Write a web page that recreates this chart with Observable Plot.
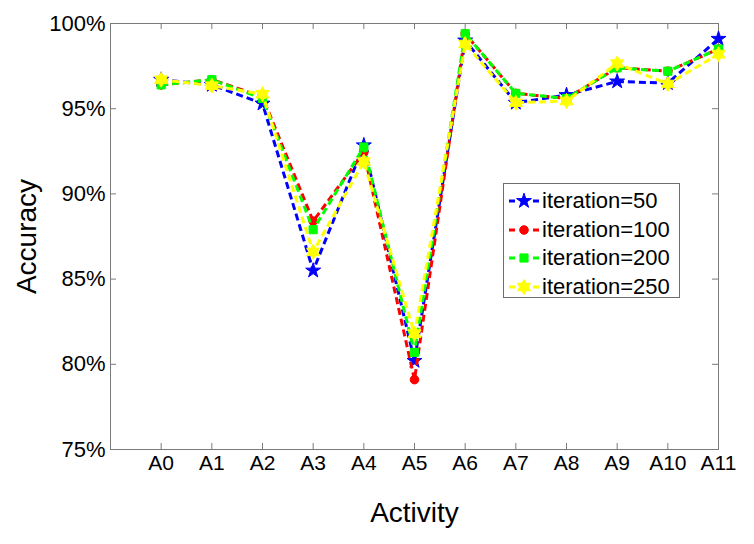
<!DOCTYPE html>
<html><head><meta charset="utf-8">
<script src="https://cdn.jsdelivr.net/npm/d3@7"></script>
<script src="https://cdn.jsdelivr.net/npm/@observablehq/plot@0.6"></script>
<style>
body{margin:0;background:#fff;}
#chart{position:relative;width:754px;height:544px;font-family:"Liberation Sans",Arial,Helvetica,sans-serif;}
#legend{position:absolute;left:503px;top:183px;width:177px;height:115px;border:1px solid #6e6e6e;background:#fff;box-sizing:border-box;}
.row{position:absolute;left:0;height:28px;display:flex;align-items:center;}
.row span{font-size:22px;color:#000;margin-left:1px;line-height:28px;}
</style>
</head><body><div id="chart"></div>
<script>
const activities = ["A0","A1","A2","A3","A4","A5","A6","A7","A8","A9","A10","A11"];
const seriesNames = ["iteration=50","iteration=100","iteration=200","iteration=250"];
const acc50  = [96.7, 96.4, 95.3, 85.5, 92.85, 80.2, 99.0, 95.35, 95.8, 96.6, 96.5, 99.1];
const acc100 = [96.4, 96.7, 95.7, 88.4, 92.45, 79.1, 99.4, 95.9, 95.6, 97.4, 97.2, 98.5];
const acc200 = [96.4, 96.7, 95.6, 87.9, 92.75, 80.7, 99.4, 95.9, 95.6, 97.4, 97.2, 98.5];
const acc250 = [96.7, 96.35, 95.85, 86.6, 91.9, 81.8, 98.8, 95.35, 95.45, 97.65, 96.45, 98.2];
const yTicks = [75, 80, 85, 90, 95, 100];

const seriesValues = [acc50, acc100, acc200, acc250];
const colors = ["#0000ff", "#ff0000", "#00ff00", "#ffff00"];

const hexagram = {draw(ctx, size) {
  const R = Math.sqrt(size / Math.PI) * 1.6, r = R / Math.sqrt(3);
  for (let k = 0; k < 12; k++) {
    const a = -Math.PI / 2 + k * Math.PI / 6, rad = k % 2 ? r : R;
    const x = rad * Math.cos(a), y = rad * Math.sin(a);
    if (k) ctx.lineTo(x, y); else ctx.moveTo(x, y);
  }
  ctx.closePath();
}};
const symbols = [d3.symbolStar, d3.symbolCircle, d3.symbolSquare, hexagram];
const radii = [4.7, 4.3, 4.6, 4.7];

const rows = [];
seriesNames.forEach((s, si) => seriesValues[si].forEach((v, i) => rows.push({series: s, si, i, act: activities[i], v})));

const W = 754, H = 544, mL = 110, mR = 36, mT = 23, mB = 95;
const fw = W - mL - mR, fh = H - mT - mB, tl = 6;
const xTickVals = d3.range(activities.length);
const tickStroke = "#7a7a7a";

const marks = [
  Plot.frame({stroke: tickStroke}),
  // inward tick marks on all four sides
  Plot.tickX(xTickVals, {x: d => d, stroke: tickStroke, insetTop: fh - tl}),
  Plot.tickX(xTickVals, {x: d => d, stroke: tickStroke, insetBottom: fh - tl}),
  Plot.tickY(yTicks, {y: d => d, stroke: tickStroke, insetRight: fw - tl}),
  Plot.tickY(yTicks, {y: d => d, stroke: tickStroke, insetLeft: fw - tl}),
  Plot.axisX({ticks: xTickVals, tickFormat: i => activities[i], tickSize: 0, tickPadding: 6, fill: "#000", fontSize: 21, label: null}),
  Plot.axisY({ticks: yTicks, tickFormat: d => d + "%", tickSize: 0, tickPadding: 5, fill: "#000", fontSize: 22, label: null}),
  Plot.text(["Activity"], {frameAnchor: "bottom", dy: 72, fontSize: 28, fill: "#000"}),
  Plot.text(["Accuracy"], {frameAnchor: "left", textAnchor: "middle", dx: -83, rotate: -90, fontSize: 28, fill: "#000"})
];
seriesNames.forEach((s, si) => {
  const d = rows.filter(r => r.si === si);
  marks.push(Plot.line(d, {x: "i", y: "v", stroke: colors[si], strokeWidth: 3, strokeDasharray: "7,4", strokeLinecap: "butt", strokeLinejoin: "miter"}));
  marks.push(Plot.dot(d, {x: "i", y: "v", symbol: symbols[si], r: radii[si], fill: colors[si], stroke: colors[si], strokeWidth: 1}));
});

const chart = Plot.plot({
  width: W, height: H,
  marginLeft: mL, marginRight: mR, marginTop: mT, marginBottom: mB,
  style: {fontFamily: "'Liberation Sans', Arial, Helvetica, sans-serif", fontSize: "21px", background: "#fff", color: "#000"},
  x: {type: "linear", domain: [-1, activities.length - 1], axis: null},
  y: {domain: [75, 100], axis: null},
  marks
});
const container = document.getElementById("chart");
container.appendChild(chart);

// legend
const legend = document.createElement("div");
legend.id = "legend";
seriesNames.forEach((s, si) => {
  const row = document.createElement("div");
  row.className = "row";
  row.style.top = (3 + si * 28.5) + "px";
  const size = Math.PI * radii[si] * radii[si];
  const path = d3.symbol(symbols[si], size)();
  row.innerHTML = `<svg width="34" height="28" style="margin-left:3px"><line x1="2" x2="32" y1="14" y2="14" stroke="${colors[si]}" stroke-width="3" stroke-dasharray="6,6"/><path transform="translate(17,14)" d="${path}" fill="${colors[si]}" stroke="${colors[si]}"/></svg><span>${s}</span>`;
  legend.appendChild(row);
});
container.appendChild(legend);
</script>
</body></html>
